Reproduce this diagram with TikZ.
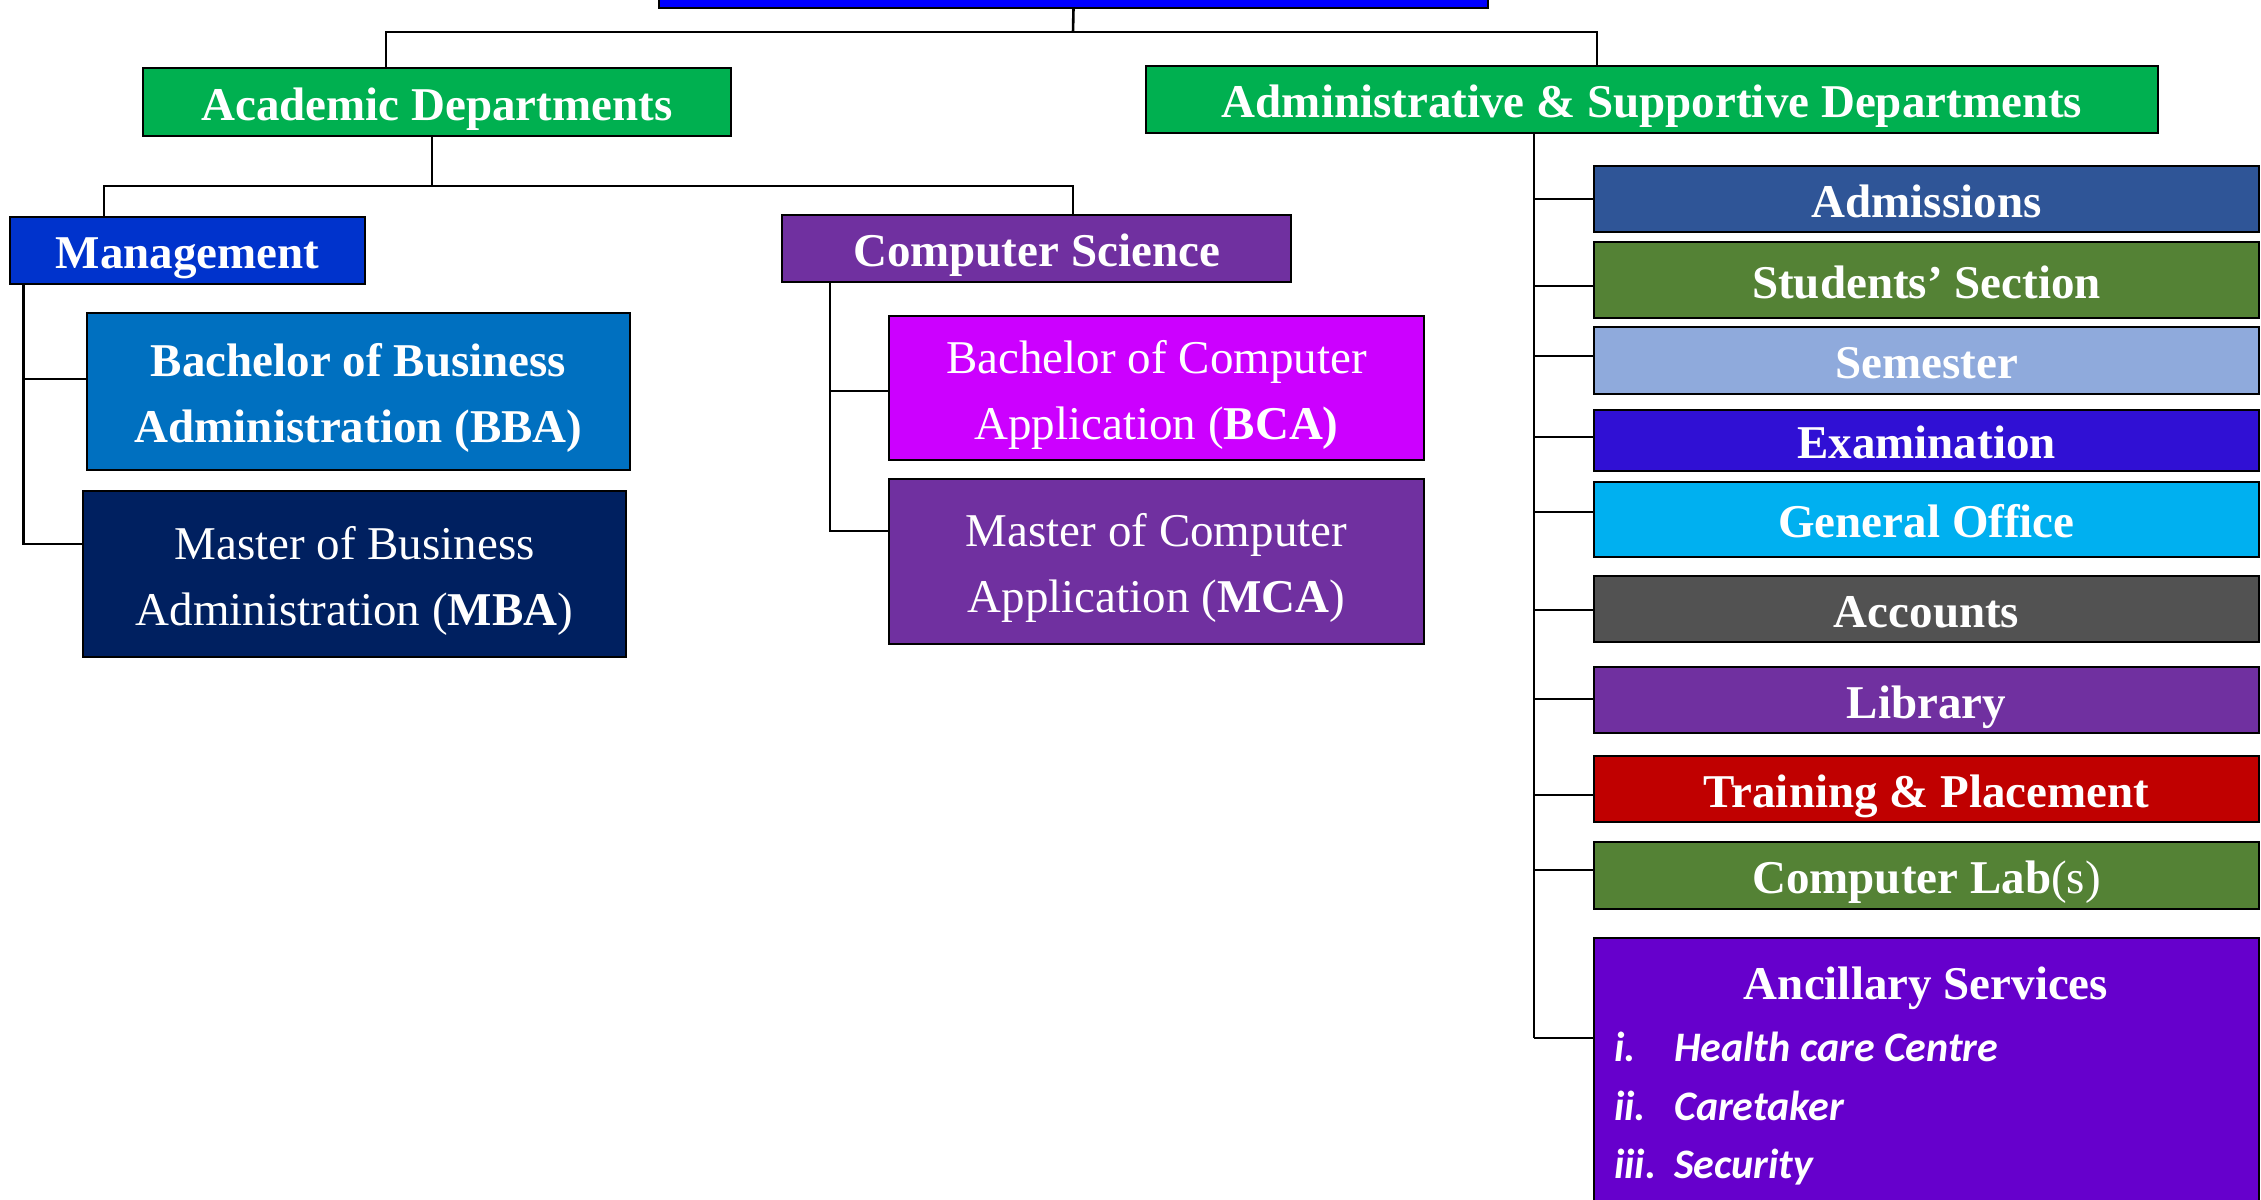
\documentclass[tikz,border=0pt]{standalone}
\usepackage{fontspec}
\setmainfont{Liberation Serif}
\newfontfamily\calfont{Carlito}
\definecolor{cTop}{HTML}{0000FF}
\definecolor{cGreen}{HTML}{00B050}
\definecolor{cMgmt}{HTML}{0033CC}
\definecolor{cBBA}{HTML}{0070C0}
\definecolor{cMBA}{HTML}{002060}
\definecolor{cPurple}{HTML}{7030A0}
\definecolor{cBCA}{HTML}{CC00FF}
\definecolor{cAdm}{HTML}{2F5597}
\definecolor{cOlive}{HTML}{548235}
\definecolor{cSem}{HTML}{8FAADC}
\definecolor{cExam}{HTML}{3010D4}
\definecolor{cGen}{HTML}{00B0F0}
\definecolor{cAcc}{HTML}{525252}
\definecolor{cTrain}{HTML}{C00000}
\definecolor{cAnc}{HTML}{6600CC}
\newcommand\mytopst{\rule{0pt}{46pt}}
\newcommand\mybotst{\rule[-10pt]{0pt}{10pt}}
\begin{document}
\begin{tikzpicture}[x=1pt,y=-1pt,
  box/.style={draw=black, line width=2.5pt, inner sep=0pt, outer sep=0pt, text=white, align=center,
    font=\fontsize{47}{66}\selectfont\bfseries},
  oneline/.style={text height=36pt, text depth=0pt},
  conn/.style={draw=black, line width=2.6pt},
  item/.style={anchor=base west, inner sep=0pt, text=white, font=\calfont\fontsize{42}{50}\selectfont\bfseries\itshape}]
\clip (0,0) rectangle (2261,1199);
\useasboundingbox (0,0) rectangle (2261,1199);

% boxes
\node[box, fill=cTop, minimum width=829pt, minimum height=68pt] (top) at (1073.5,-26) {};
\node[box, oneline, fill=cGreen, minimum width=588pt, minimum height=68pt] (acad) at (437,102) {Academic Departments};
\node[box, oneline, fill=cGreen, minimum width=1012pt, minimum height=67pt] (admin) at (1652,99.5) {Administrative \& Supportive Departments};
\node[box, oneline, fill=cMgmt, minimum width=355pt, minimum height=67pt] (mgmt) at (187.5,250.5) {Management};
\node[box, oneline, fill=cPurple, minimum width=509pt, minimum height=67pt] (cs) at (1036.5,248.5) {Computer Science};
\node[box, fill=cBBA, minimum width=543pt, minimum height=157pt] (bba) at (358.5,391.5) {\mytopst Bachelor of Business\\Administration (BBA)\mybotst};
\node[box, fill=cMBA, minimum width=543pt, minimum height=166pt] (mba) at (354.5,574) {\mdseries\mytopst Master of Business\\\mdseries Administration (\textbf{MBA})\mybotst};
\node[box, fill=cBCA, minimum width=535pt, minimum height=144pt] (bca) at (1156.5,388) {\mdseries\mytopst Bachelor of Computer\\\mdseries Application (\textbf{BCA)}\mybotst};
\node[box, fill=cPurple, minimum width=535pt, minimum height=165pt] (mca) at (1156.5,561.5) {\mdseries\mytopst Master of Computer\\\mdseries Application (\textbf{MCA})\mybotst};

\node[box, oneline, fill=cAdm, minimum width=665pt, minimum height=66pt] (adm) at (1926.5,199) {Admissions};
\node[box, oneline, fill=cOlive, minimum width=665pt, minimum height=76pt] (stu) at (1926.5,280) {Students’ Section};
\node[box, oneline, fill=cSem, minimum width=665pt, minimum height=67pt] (sem) at (1926.5,360.5) {Semester};
\node[box, oneline, fill=cExam, minimum width=665pt, minimum height=61pt] (exa) at (1926.5,440.5) {Examination};
\node[box, oneline, fill=cGen, minimum width=665pt, minimum height=75pt] (gen) at (1926.5,519.5) {General Office};
\node[box, oneline, fill=cAcc, minimum width=665pt, minimum height=66pt] (acc) at (1926.5,609) {Accounts};
\node[box, oneline, fill=cPurple, minimum width=665pt, minimum height=66pt] (lib) at (1926.5,700) {Library};
\node[box, oneline, fill=cTrain, minimum width=665pt, minimum height=66pt] (tra) at (1926.5,789) {Training \& Placement};
\node[box, oneline, fill=cOlive, minimum width=665pt, minimum height=67pt] (lab) at (1926.5,875.5) {Computer Lab\mdseries(s)};
\node[box, fill=cAnc, minimum width=665pt, minimum height=322pt] (anc) at (1926.5,1099) {};

% ancillary contents
\node[anchor=base, inner sep=0pt, text=white, font=\fontsize{47}{66}\selectfont\bfseries] (anct) at (1926,999) {Ancillary Services};
\node[item] (n1) at (1614,1061) {i.};
\node[item] (t1) at (1674,1061) {Health care Centre};
\node[item] (n2) at (1614,1120) {ii.};
\node[item] (t2) at (1674,1120) {Caretaker};
\node[item] (n3) at (1614,1178) {iii.};
\node[item] (t3) at (1674,1178) {Security};

% connectors: top level
\coordinate (jt) at (1073,32);
\draw[conn] (top.south) -- (jt);
\draw[conn] ([xshift=-51pt]acad.north) |- (jt) -| ([xshift=-55pt]admin.north);

% academic
\coordinate (ja) at (432,186);
\draw[conn] ([xshift=-5pt]acad.south) -- (ja);
\draw[conn] ([xshift=-83.5pt]mgmt.north) |- (ja) -| ([xshift=36.5pt]cs.north);

% management
\draw[conn] ([xshift=-164pt]mgmt.south) |- ([yshift=12.5pt]bba.west);
\draw[conn] ([xshift=-164pt]mgmt.south) |- ([yshift=30pt]mba.west);

% computer science
\draw[conn] ([xshift=-206.5pt]cs.south) |- ([yshift=-3pt]bca.west);
\draw[conn] ([xshift=-206.5pt]cs.south) |- ([yshift=30.5pt]mca.west);

% administrative
\coordinate (ta) at (1534,1038);
\draw[conn] ([xshift=-118pt]admin.south) -- (ta);
\draw[conn] (adm.west) -- (adm.west -| ta);
\draw[conn] ([yshift=-6pt]stu.west) -- ([yshift=-6pt]stu.west -| ta);
\draw[conn] ([yshift=4.5pt]sem.west) -- ([yshift=4.5pt]sem.west -| ta);
\draw[conn] ([yshift=3.5pt]exa.west) -- ([yshift=3.5pt]exa.west -| ta);
\draw[conn] ([yshift=7.5pt]gen.west) -- ([yshift=7.5pt]gen.west -| ta);
\draw[conn] ([yshift=-1pt]acc.west) -- ([yshift=-1pt]acc.west -| ta);
\draw[conn] ([yshift=1pt]lib.west) -- ([yshift=1pt]lib.west -| ta);
\draw[conn] ([yshift=-6pt]tra.west) -- ([yshift=-6pt]tra.west -| ta);
\draw[conn] ([yshift=5.5pt]lab.west) -- ([yshift=5.5pt]lab.west -| ta);
\draw[conn] ([yshift=61pt]anc.west) -- (ta);
\end{tikzpicture}
\end{document}
